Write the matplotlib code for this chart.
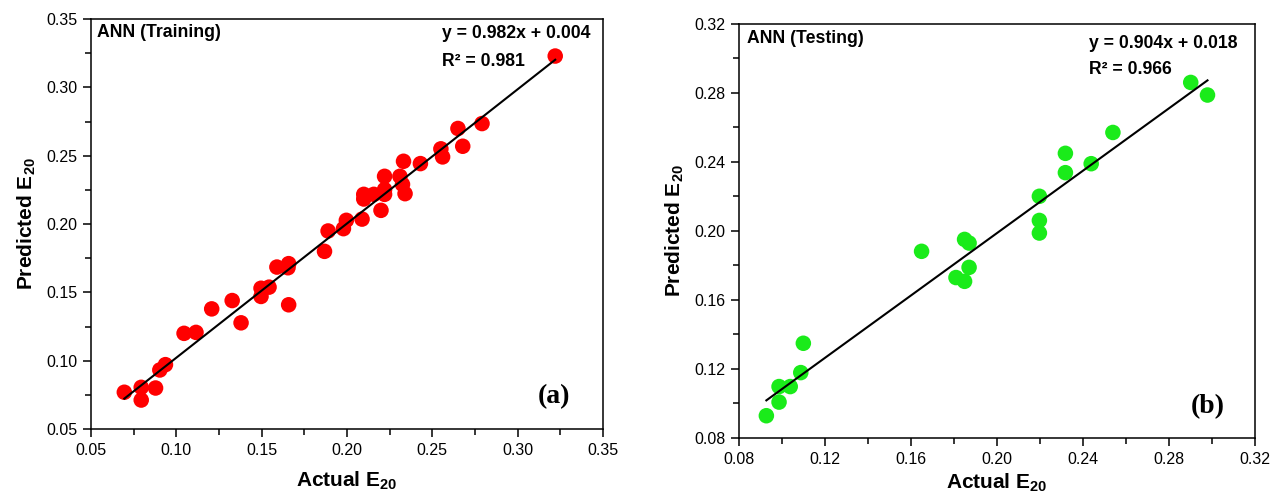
import numpy as np
import matplotlib
matplotlib.use('Agg')
import matplotlib.pyplot as plt
from matplotlib.ticker import MultipleLocator, FormatStrFormatter

plt.rcParams['font.family'] = ['Liberation Sans', 'DejaVu Sans']
plt.rcParams['mathtext.fontset'] = 'custom'
plt.rcParams['mathtext.rm'] = 'Liberation Sans'
plt.rcParams['mathtext.bf'] = 'Liberation Sans:bold'

# training set (actual, predicted)
train_actual = [0.0695, 0.0794, 0.0794, 0.0878, 0.0903, 0.0936, 0.1045, 0.1115,
                0.1207, 0.1327, 0.1379, 0.1496, 0.1496, 0.1543, 0.1589, 0.1658,
                0.1654, 0.1658, 0.1868, 0.1889, 0.1979, 0.1996, 0.2088, 0.2098,
                0.2098, 0.2157, 0.2199, 0.2220, 0.2220, 0.2220, 0.2310, 0.2325,
                0.2331, 0.2340, 0.2430, 0.2550, 0.2560, 0.2650, 0.2678, 0.2791,
                0.3220]
train_pred = [0.0769, 0.0805, 0.0712, 0.0800, 0.0932, 0.0971, 0.1200, 0.1207,
              0.1379, 0.1440, 0.1277, 0.1530, 0.1470, 0.1538, 0.1685, 0.1710,
              0.1680, 0.1409, 0.1800, 0.1949, 0.1966, 0.2027, 0.2036, 0.2217,
              0.2183, 0.2217, 0.2100, 0.2349, 0.2252, 0.2217, 0.2349, 0.2290,
              0.2459, 0.2222, 0.2442, 0.2550, 0.2491, 0.2699, 0.2569, 0.2735,
              0.3229]
train_fit = (0.982, 0.004)
train_r2 = 0.981

# testing set (actual, predicted)
test_actual = [0.0927, 0.0986, 0.0986, 0.1038, 0.1087, 0.1099, 0.1649, 0.1809,
               0.1849, 0.1849, 0.1870, 0.1870, 0.2197, 0.2197, 0.2197, 0.2318,
               0.2318, 0.2438, 0.2539, 0.2901, 0.2979]
test_pred = [0.0929, 0.1008, 0.1098, 0.1098, 0.1179, 0.1349, 0.1882, 0.1730,
             0.1708, 0.1951, 0.1930, 0.1789, 0.2201, 0.2061, 0.1988, 0.2450,
             0.2338, 0.2390, 0.2571, 0.2861, 0.2788]
test_fit = (0.904, 0.018)
test_r2 = 0.966


def draw_panel(ax, x, y, fit, r2, color, lims, major, title, tag, pos, xpad):
    x = np.array(x)
    ax.scatter(x, y, s=125, color=color, edgecolors='none', zorder=3)
    xs = np.array([x.min(), x.max()])
    ax.plot(xs, fit[0] * xs + fit[1], color='black', lw=1.5, zorder=4)

    ax.set_xlim(lims)
    ax.set_ylim(lims)
    ax.xaxis.set_major_locator(MultipleLocator(major))
    ax.yaxis.set_major_locator(MultipleLocator(major))
    ax.xaxis.set_minor_locator(MultipleLocator(major / 2))
    ax.yaxis.set_minor_locator(MultipleLocator(major / 2))
    ax.xaxis.set_major_formatter(FormatStrFormatter('%.2f'))
    ax.yaxis.set_major_formatter(FormatStrFormatter('%.2f'))
    ax.tick_params(which='both', direction='out', width=1.1, top=False, right=False)
    ax.tick_params(which='major', length=6, labelsize=11.5, pad=4)
    ax.tick_params(which='minor', length=4)
    for s in ax.spines.values():
        s.set_linewidth(1.1)

    ax.set_xlabel(r'Actual E$_{\mathbf{20}}$', fontsize=15, fontweight='bold', labelpad=xpad)
    ax.set_ylabel(r'Predicted E$_{\mathbf{20}}$', fontsize=15, fontweight='bold', labelpad=6)

    ax.text(pos[0], pos[1], title, transform=ax.transAxes, fontsize=12.7,
            fontweight='bold', va='center', ha='left')
    ax.text(pos[2], pos[3], 'y = %.3fx + %.3f' % fit, transform=ax.transAxes,
            fontsize=12.7, fontweight='bold', va='center', ha='left')
    ax.text(pos[2], pos[4], 'R² = %.3f' % r2, transform=ax.transAxes,
            fontsize=12.7, fontweight='bold', va='center', ha='left')
    ax.text(pos[5], pos[6], tag, transform=ax.transAxes, fontsize=20,
            fontweight='bold', family='Liberation Serif', va='center', ha='center')


fig = plt.figure(figsize=(12.86, 4.95), dpi=100)
ax1 = fig.add_axes([0.0708, 0.1333, 0.3981, 0.8283])
ax2 = fig.add_axes([0.5747, 0.1152, 0.4012, 0.8364])

draw_panel(ax1, train_actual, train_pred, train_fit, train_r2, '#ff0000',
           (0.05, 0.35), 0.05, 'ANN (Training)', '(a)',
           (0.012, 0.967, 0.686, 0.965, 0.897, 0.904, 0.079), 8)
draw_panel(ax2, test_actual, test_pred, test_fit, test_r2, '#1aeb1a',
           (0.08, 0.32), 0.04, 'ANN (Testing)', '(b)',
           (0.016, 0.966, 0.678, 0.954, 0.889, 0.909, 0.076), 3)

fig.savefig('out.png', dpi=100)
